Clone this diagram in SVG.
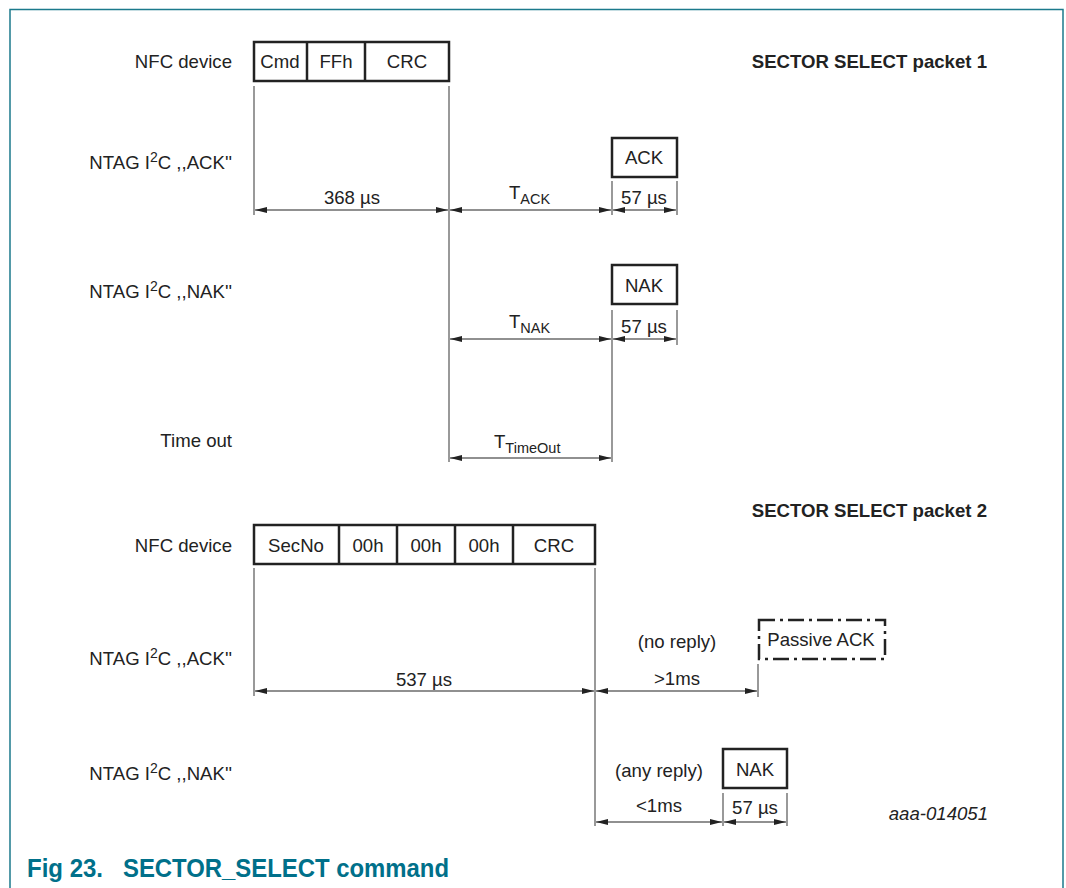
<svg xmlns="http://www.w3.org/2000/svg" width="1066" height="888" viewBox="0 0 1066 888">
<defs>
<marker id="ah" viewBox="0 0 12 6" refX="12" refY="3" markerWidth="12" markerHeight="6" markerUnits="userSpaceOnUse" orient="auto-start-reverse">
<path d="M0,0 L12,3 L0,6 z" fill="#222"/>
</marker>
<style>
text{font-family:"Liberation Sans",Arial,sans-serif;fill:#222;font-size:18.6px}
.l{text-anchor:end}
.c{text-anchor:middle}
.b{font-weight:bold}
.sub{font-size:14.5px}
.box{fill:#fff;stroke:#222;stroke-width:2.5}
.v{stroke:#555;stroke-width:1.2;fill:none}
.a{stroke:#222;stroke-width:1.2;fill:none;marker-start:url(#ah);marker-end:url(#ah)}
.t{font-weight:bold;font-size:26px;fill:#00708a}
</style>
</defs>
<rect width="1066" height="888" fill="#fff"/>
<path d="M10,900 V9.5 H1063 V900" fill="none" stroke="#1b7a8c" stroke-width="1.5"/>

<g id="labels">
<text class="l" x="232" y="68">NFC device</text>
<text class="l" x="232" y="169">NTAG I<tspan font-size="14" dy="-7">2</tspan><tspan dy="7">C ,,ACK''</tspan></text>
<text class="l" x="232" y="298">NTAG I<tspan font-size="14" dy="-7">2</tspan><tspan dy="7">C ,,NAK''</tspan></text>
<text class="l" x="232" y="447">Time out</text>
<text class="l" x="232" y="552">NFC device</text>
<text class="l" x="232" y="665">NTAG I<tspan font-size="14" dy="-7">2</tspan><tspan dy="7">C ,,ACK''</tspan></text>
<text class="l" x="232" y="780">NTAG I<tspan font-size="14" dy="-7">2</tspan><tspan dy="7">C ,,NAK''</tspan></text>
<text class="l b" x="987" y="68">SECTOR SELECT packet 1</text>
<text class="l b" x="987" y="517">SECTOR SELECT packet 2</text>
<text class="l" x="988" y="820" font-style="italic" font-size="14.5">aaa-014051</text>
<text class="t" x="27" y="877" textLength="76" lengthAdjust="spacingAndGlyphs">Fig 23.</text>
<text class="t" x="123" y="877" textLength="326" lengthAdjust="spacingAndGlyphs">SECTOR_SELECT command</text>
</g>

<g id="packet1">
<rect class="box" x="254" y="42" width="195" height="39"/>
<line class="box" x1="307" y1="42" x2="307" y2="81"/>
<line class="box" x1="365" y1="42" x2="365" y2="81"/>
<text class="c" x="280" y="68">Cmd</text>
<text class="c" x="336" y="68">FFh</text>
<text class="c" x="407" y="68">CRC</text>
</g>

<g id="ack1">
<rect class="box" x="612" y="138" width="65" height="39"/>
<text class="c" x="644" y="164">ACK</text>
</g>

<g id="nak1">
<rect class="box" x="612" y="265" width="65" height="39"/>
<text class="c" x="644" y="292">NAK</text>
</g>

<g id="packet2">
<rect class="box" x="254" y="525" width="341" height="39"/>
<line class="box" x1="339" y1="525" x2="339" y2="564"/>
<line class="box" x1="397" y1="525" x2="397" y2="564"/>
<line class="box" x1="455" y1="525" x2="455" y2="564"/>
<line class="box" x1="513" y1="525" x2="513" y2="564"/>
<text class="c" x="296" y="552">SecNo</text>
<text class="c" x="368" y="552">00h</text>
<text class="c" x="426" y="552">00h</text>
<text class="c" x="484" y="552">00h</text>
<text class="c" x="554" y="552">CRC</text>
</g>

<g id="passiveack">
<rect x="759" y="620" width="126" height="39" fill="#fff" stroke="#222" stroke-width="2.5" stroke-dasharray="16 5 3 5"/>
<text class="c" x="821" y="646">Passive ACK</text>
</g>

<g id="nak2">
<rect class="box" x="723" y="749" width="64" height="39"/>
<text class="c" x="755" y="776">NAK</text>
</g>

<g id="connectors">
<line class="v" x1="254" y1="86" x2="254" y2="215"/>
<line class="v" x1="449" y1="86" x2="449" y2="462"/>
<line class="v" x1="612" y1="181" x2="612" y2="215"/>
<line class="v" x1="677" y1="181" x2="677" y2="215"/>
<line class="v" x1="612" y1="310" x2="612" y2="462"/>
<line class="v" x1="677" y1="310" x2="677" y2="345"/>
<line class="v" x1="254" y1="568" x2="254" y2="696"/>
<line class="v" x1="595" y1="568" x2="595" y2="826"/>
<line class="v" x1="758" y1="664" x2="758" y2="697"/>
<line class="v" x1="723" y1="793" x2="723" y2="826"/>
<line class="v" x1="787" y1="793" x2="787" y2="826"/>

<line class="a" x1="255" y1="210" x2="448" y2="210"/>
<line class="a" x1="450" y1="210" x2="611" y2="210"/>
<line class="a" x1="613" y1="210" x2="676" y2="210"/>
<line class="a" x1="450" y1="339" x2="611" y2="339"/>
<line class="a" x1="613" y1="339" x2="676" y2="339"/>
<line class="a" x1="450" y1="458" x2="611" y2="458"/>
<line class="a" x1="255" y1="691" x2="594" y2="691"/>
<line class="a" x1="596" y1="691" x2="757" y2="691"/>
<line class="a" x1="596" y1="822" x2="722" y2="822"/>
<line class="a" x1="724" y1="822" x2="786" y2="822"/>

<text class="c" x="352" y="204">368 µs</text>
<text x="509" y="199">T<tspan class="sub" dy="5">ACK</tspan></text>
<text class="c" x="644" y="204">57 µs</text>
<text x="509" y="328">T<tspan class="sub" dy="5">NAK</tspan></text>
<text class="c" x="644" y="333">57 µs</text>
<text x="494" y="448">T<tspan class="sub" dy="5">TimeOut</tspan></text>
<text class="c" x="424" y="686">537 µs</text>
<text class="c" x="677" y="648">(no reply)</text>
<text class="c" x="677" y="685">&gt;1ms</text>
<text class="c" x="659" y="777">(any reply)</text>
<text class="c" x="659" y="812">&lt;1ms</text>
<text class="c" x="755" y="814">57 µs</text>
</g>
</svg>
